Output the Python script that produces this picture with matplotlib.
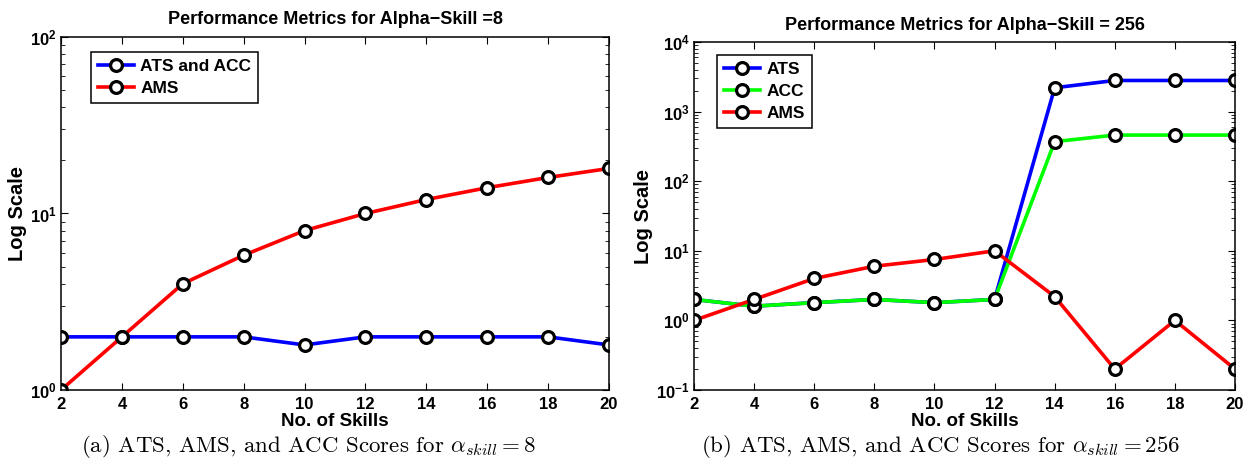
import matplotlib
matplotlib.use("Agg")
import matplotlib.pyplot as plt
from matplotlib.ticker import LogLocator, NullFormatter

plt.rcParams['font.family'] = ['Liberation Sans', 'DejaVu Sans']
plt.rcParams['font.weight'] = 'bold'
plt.rcParams['mathtext.fontset'] = 'custom'
plt.rcParams['mathtext.rm'] = 'Liberation Sans:bold'
plt.rcParams['mathtext.it'] = 'Liberation Sans:bold'
plt.rcParams['mathtext.bf'] = 'Liberation Sans:bold'

skills = [2, 4, 6, 8, 10, 12, 14, 16, 18, 20]

# Panel (a)
ats_acc_a = [2, 2, 2, 2, 1.8, 2, 2, 2, 2, 1.8]
ams_a = [1, 2, 4, 5.8, 8, 10, 12, 14, 16, 18]

# Panel (b)
ats_b = [2, 1.6, 1.8, 2, 1.8, 2, 2200, 2800, 2800, 2800]
acc_b = [2, 1.6, 1.8, 2, 1.8, 2, 370, 460, 460, 460]
ams_b = [1, 2, 4, 6, 7.5, 10, 2.2, 0.2, 1, 0.2]

W, H = 1248, 463
fig = plt.figure(figsize=(W / 100, H / 100), dpi=100)

def px_axes(l, t, r, b):
    return fig.add_axes([l / W, 1 - b / H, (r - l) / W, (b - t) / H])

ax1 = px_axes(61, 37, 609, 390)
ax2 = px_axes(694, 42, 1235, 390)

mk = dict(marker='o', markersize=8.5, markerfacecolor='white',
          markeredgecolor='black', markeredgewidth=2.3, linewidth=2.6)

ax1.plot(skills, ats_acc_a, color='#0000ff', label='ATS and ACC', **mk)
ax1.plot(skills, ams_a, color='#ff0000', label='AMS', **mk)

ax2.plot(skills, ats_b, color='#0000ff', label='ATS', **mk)
ax2.plot(skills, acc_b, color='#00ff00', label='ACC', **mk)
ax2.plot(skills, ams_b, color='#ff0000', label='AMS', **mk)

panels = [
    (ax1, (1, 100), 'Performance Metrics for Alpha\u2212Skill =8', (91, 52)),
    (ax2, (0.1, 1e4), 'Performance Metrics for Alpha\u2212Skill = 256', (717, 55)),
]
for ax, ylim, title, legpos in panels:
    ax.set_yscale('log')
    ax.set_ylim(*ylim)
    ax.set_xlim(2, 20)
    ax.set_xticks(skills)
    ax.yaxis.set_major_locator(LogLocator(base=10))
    ax.yaxis.set_minor_locator(LogLocator(base=10, subs=range(2, 10)))
    ax.yaxis.set_minor_formatter(NullFormatter())
    ax.tick_params(which='both', direction='in', top=True, right=True,
                   labelsize=12)
    ax.tick_params(axis='x', pad=5)
    ax.tick_params(axis='y', pad=3)
    ax.tick_params(which='major', length=5, width=0.8)
    ax.tick_params(which='minor', length=3, width=0.6)
    for s in ax.spines.values():
        s.set_linewidth(1.1)
    ax.set_title(title, fontsize=13, fontweight='bold', pad=9)
    ax.set_xlabel('No. of Skills', fontsize=13.5, fontweight='bold', labelpad=1)
    ax.set_ylabel('Log Scale', fontsize=14.5, fontweight='bold', labelpad=2)
    leg = ax.legend(loc='upper left', fontsize=12.5, frameon=True, fancybox=False,
                    edgecolor='black', framealpha=1, handlelength=2.1,
                    bbox_to_anchor=(legpos[0] / W, 1 - legpos[1] / H),
                    bbox_transform=fig.transFigure, borderaxespad=0,
                    borderpad=0.4, handletextpad=0.35, labelspacing=0.38)
    leg.get_frame().set_linewidth(1.1)

fig.text(309 / W, 1 - 447 / H,
         r'(a) ATS, AMS, and ACC Scores for $\alpha_{skill}=8$',
         ha='center', va='center', fontsize=16.5, family='cmr10',
         fontweight='normal', math_fontfamily='cm')
fig.text(941 / W, 1 - 447 / H,
         r'(b) ATS, AMS, and ACC Scores for $\alpha_{skill}=256$',
         ha='center', va='center', fontsize=16.5, family='cmr10',
         fontweight='normal', math_fontfamily='cm')

fig.savefig('out.png', dpi=100)
